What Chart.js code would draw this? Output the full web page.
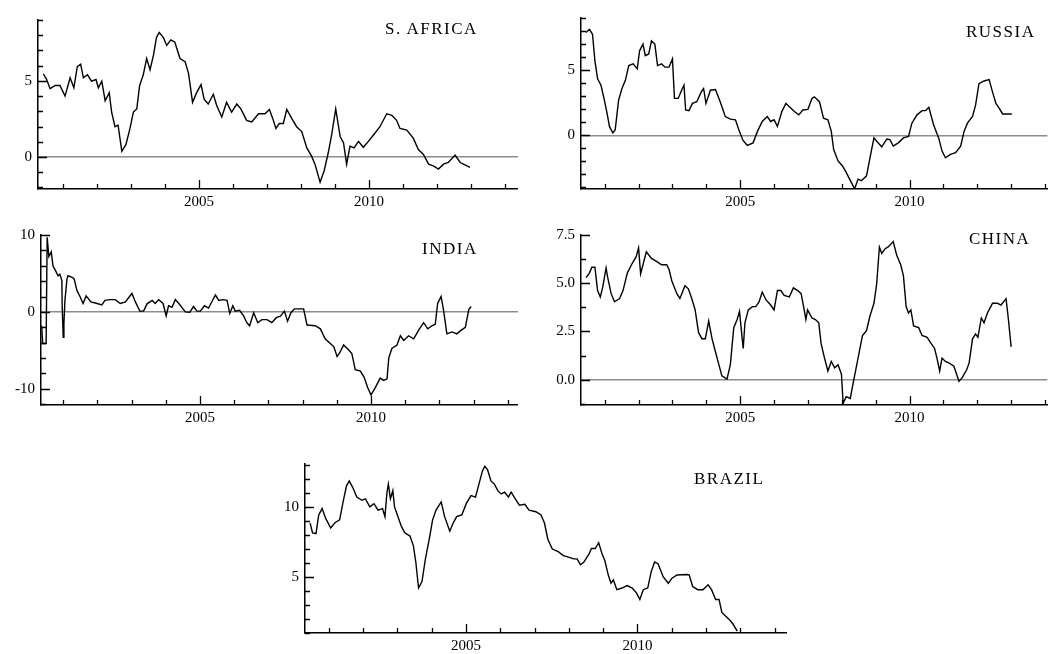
<!DOCTYPE html>
<html>
<head>
<meta charset="utf-8">
<script src="https://cdn.jsdelivr.net/npm/chart.js@4.4.1/dist/chart.umd.min.js"></script>
<style>
  html, body { margin: 0; padding: 0; background: #fff; }
  body { width: 1049px; height: 654px; position: relative; overflow: hidden; }
  .panel { position: absolute; }
  .title { position: absolute; font-family: 'Liberation Serif', serif; font-size: 17px; letter-spacing: 1.5px; color: #000; white-space: nowrap; line-height: 17px; }
</style>
</head>
<body>
<script>
// year ticks shared by all panels
const xTicks = [2001, 2002, 2003, 2004, 2005, 2006, 2007, 2008, 2009, 2010, 2011, 2012, 2013, 2014];
const xLabels = [2005, 2010];

// S. Africa
const saYears = [2000.42,2000.52,2000.62,2000.77,2000.91,2001.06,2001.21,2001.32,2001.42,2001.52,
  2001.6,2001.72,2001.84,2001.97,2002.04,2002.14,2002.24,2002.36,2002.43,2002.53,
  2002.62,2002.73,2002.85,2002.97,2003.07,2003.17,2003.25,2003.36,2003.46,2003.56,
  2003.66,2003.75,2003.83,2003.95,2004.05,2004.17,2004.29,2004.44,2004.59,2004.69,
  2004.81,2004.93,2005.06,2005.15,2005.27,2005.42,2005.52,2005.67,2005.81,2005.96,
  2006.11,2006.23,2006.4,2006.55,2006.75,2006.94,2007.07,2007.17,2007.26,2007.36,
  2007.48,2007.58,2007.73,2007.87,2008.02,2008.17,2008.31,2008.41,2008.56,2008.68,
  2008.8,2008.9,2009.02,2009.15,2009.25,2009.34,2009.44,2009.56,2009.69,2009.83,
  2009.98,2010.13,2010.32,2010.52,2010.67,2010.81,2010.91,2011.11,2011.3,2011.45,
  2011.6,2011.75,2011.89,2012.04,2012.19,2012.33,2012.53,2012.68,2012.82,2012.97];
const saValues = [5.47,5.09,4.49,4.7,4.7,4.0,5.2,4.55,5.94,6.1,
  5.2,5.4,4.98,5.09,4.55,4.98,3.7,4.23,2.95,1.99,
  2.09,0.38,0.81,1.88,2.95,3.16,4.66,5.4,6.47,5.73,
  6.69,7.86,8.18,7.86,7.33,7.69,7.54,6.47,6.26,5.51,
  3.59,4.23,4.76,3.8,3.48,4.12,3.38,2.63,3.59,2.95,
  3.48,3.16,2.41,2.31,2.84,2.84,3.12,2.52,1.88,2.2,
  2.2,3.12,2.52,1.99,1.67,0.6,0.06,-0.47,-1.65,-0.9,
  0.28,1.45,3.16,1.35,0.92,-0.47,0.71,0.6,1.03,0.64,
  1.03,1.45,1.99,2.84,2.74,2.41,1.88,1.77,1.24,0.49,
  0.17,-0.47,-0.58,-0.79,-0.47,-0.36,0.13,-0.36,-0.51,-0.68];
const saYTicks = [-2, -1, 0, 1, 2, 3, 4, 5, 6, 7, 8, 9];
const saYLabels = [0, 5];

// Russia
const ruYears = [2000.45,2000.55,2000.64,2000.71,2000.79,2000.89,2000.99,2001.07,2001.14,2001.24,
  2001.31,2001.41,2001.51,2001.61,2001.71,2001.84,2001.96,2002.03,2002.13,2002.2,
  2002.3,2002.38,2002.48,2002.56,2002.68,2002.78,2002.9,2003.0,2003.06,2003.17,
  2003.27,2003.34,2003.39,2003.49,2003.59,2003.72,2003.85,2003.92,2003.99,2004.12,
  2004.27,2004.41,2004.56,2004.71,2004.86,2004.96,2005.08,2005.21,2005.38,2005.51,
  2005.65,2005.8,2005.9,2006.0,2006.1,2006.23,2006.35,2006.5,2006.6,2006.73,
  2006.85,2007.0,2007.12,2007.19,2007.34,2007.46,2007.59,2007.69,2007.76,2007.89,
  2008.02,2008.13,2008.28,2008.38,2008.48,2008.58,2008.73,2008.88,2008.95,2009.03,
  2009.18,2009.33,2009.42,2009.52,2009.67,2009.82,2009.97,2010.07,2010.22,2010.37,
  2010.47,2010.57,2010.71,2010.86,2010.96,2011.06,2011.21,2011.36,2011.51,2011.61,
  2011.71,2011.86,2011.95,2012.05,2012.2,2012.35,2012.45,2012.55,2012.65,2012.75,
  2013.02];
const ruValues = [7.88,8.13,7.75,5.73,4.34,3.84,2.7,1.69,0.68,0.18,
  0.43,2.7,3.59,4.22,5.35,5.48,5.1,6.49,7.0,6.11,
  6.24,7.25,7.0,5.35,5.48,5.23,5.23,5.86,2.83,2.83,
  3.46,3.84,1.94,1.89,2.45,2.58,3.33,3.59,2.45,3.46,
  3.51,2.58,1.44,1.24,1.19,0.43,-0.38,-0.78,-0.58,0.3,
  1.06,1.44,1.06,1.19,0.68,1.82,2.45,2.07,1.82,1.57,
  1.94,1.99,2.83,2.95,2.58,1.31,1.19,0.3,-1.09,-1.97,
  -2.35,-2.85,-3.61,-4.1,-3.36,-3.48,-3.11,-1.09,-0.2,-0.45,
  -0.88,-0.28,-0.33,-0.83,-0.58,-0.2,-0.08,0.93,1.57,1.89,
  1.89,2.15,0.81,-0.2,-1.21,-1.72,-1.46,-1.34,-0.83,0.3,
  0.93,1.44,2.32,3.96,4.17,4.27,3.33,2.45,2.07,1.64,
  1.64];
const ruYTicks = [-4, -3, -2, -1, 0, 1, 2, 3, 4, 5, 6, 7, 8, 9];
const ruYLabels = [0, 5];

// India
const inYears = [2000.37,2000.4,2000.5,2000.53,2000.58,2000.65,2000.7,2000.76,2000.85,2000.9,
  2000.96,2000.97,2001.0,2001.02,2001.05,2001.11,2001.14,2001.26,2001.32,2001.4,
  2001.49,2001.58,2001.67,2001.81,2001.99,2002.13,2002.22,2002.37,2002.52,2002.67,
  2002.82,2002.94,2003.01,2003.11,2003.24,2003.35,2003.45,2003.6,2003.69,2003.79,
  2003.92,2004.01,2004.08,2004.18,2004.28,2004.38,2004.47,2004.57,2004.7,2004.81,
  2004.91,2005.01,2005.13,2005.25,2005.32,2005.45,2005.55,2005.67,2005.79,2005.87,
  2005.96,2006.03,2006.16,2006.28,2006.37,2006.45,2006.57,2006.69,2006.81,2006.96,
  2007.1,2007.23,2007.35,2007.47,2007.56,2007.66,2007.76,2008.03,2008.13,2008.37,
  2008.52,2008.66,2008.81,2008.91,2009.01,2009.1,2009.2,2009.35,2009.44,2009.54,
  2009.69,2009.8,2009.9,2010.0,2010.13,2010.27,2010.37,2010.47,2010.52,2010.61,
  2010.76,2010.86,2010.96,2011.1,2011.25,2011.39,2011.54,2011.66,2011.78,2011.88,
  2011.95,2012.05,2012.12,2012.22,2012.37,2012.51,2012.63,2012.76,2012.86,2012.93];
const inValues = [-1.8,-4.1,-4.1,9.7,7.2,7.8,6.0,5.5,4.7,4.9,
  4.1,0.6,-3.3,-1.5,1.5,4.3,4.7,4.5,4.3,2.8,
  2.0,1.1,2.1,1.3,1.1,0.9,1.5,1.6,1.6,1.1,
  1.3,2.0,2.4,1.3,0.1,0.1,1.05,1.5,1.1,1.6,
  1.1,-0.5,0.8,0.6,1.6,1.1,0.6,0.0,-0.05,0.7,
  0.1,0.1,0.8,0.5,1.1,2.2,1.5,1.6,1.5,-0.2,
  0.8,0.1,0.2,-0.55,-1.4,-1.8,-0.1,-1.4,-1.0,-1.0,
  -1.4,-0.75,-0.55,0.1,-1.2,-0.1,0.4,0.4,-1.7,-1.8,
  -2.2,-3.5,-4.1,-4.5,-5.8,-5.2,-4.3,-4.95,-5.4,-7.5,
  -7.7,-8.5,-9.8,-10.8,-9.8,-8.6,-8.9,-8.7,-6.0,-4.75,
  -4.3,-3.1,-3.7,-3.1,-3.5,-2.4,-1.4,-2.2,-1.8,-1.6,
  1.1,2.0,0.3,-2.85,-2.6,-2.85,-2.4,-2.0,0.3,0.7];
const inYTicks = [-12, -10, -8, -6, -4, -2, 0, 2, 4, 6, 8, 10];
const inYLabels = [-10, 0, 10];

// China
const cnYears = [2000.45,2000.55,2000.62,2000.71,2000.79,2000.87,2000.94,2001.04,2001.09,2001.19,
  2001.29,2001.44,2001.54,2001.67,2001.79,2001.93,2002.0,2002.06,2002.13,2002.23,
  2002.38,2002.53,2002.68,2002.83,2002.9,2002.98,2003.13,2003.22,2003.37,2003.47,
  2003.57,2003.67,2003.77,2003.87,2003.97,2004.07,2004.17,2004.27,2004.37,2004.46,
  2004.61,2004.71,2004.81,2004.91,2004.98,2005.06,2005.09,2005.14,2005.24,2005.36,
  2005.46,2005.56,2005.65,2005.77,2005.9,2006.0,2006.1,2006.2,2006.3,2006.45,
  2006.57,2006.7,2006.8,2006.89,2006.94,2006.99,2007.12,2007.22,2007.32,2007.39,
  2007.49,2007.59,2007.69,2007.79,2007.89,2007.99,2008.04,2008.13,2008.25,2008.35,
  2008.48,2008.61,2008.73,2008.83,2008.95,2009.03,2009.11,2009.18,2009.28,2009.37,
  2009.52,2009.62,2009.74,2009.82,2009.9,2009.97,2010.04,2010.12,2010.27,2010.37,
  2010.52,2010.64,2010.74,2010.81,2010.89,2010.96,2011.06,2011.16,2011.31,2011.39,
  2011.46,2011.56,2011.69,2011.76,2011.86,2011.95,2012.02,2012.12,2012.2,2012.3,
  2012.45,2012.6,2012.7,2012.85,2012.92,2013.0];
const cnValues = [5.29,5.54,5.83,5.83,4.62,4.29,4.79,5.79,5.29,4.46,
  4.04,4.21,4.62,5.54,5.96,6.38,6.83,5.49,5.96,6.63,
  6.29,6.13,5.96,5.96,5.71,5.13,4.46,4.21,4.87,4.71,
  4.21,3.62,2.45,2.12,2.12,3.04,2.12,1.45,0.78,0.2,
  0.03,0.78,2.7,3.12,3.54,2.12,1.62,2.95,3.62,3.79,
  3.79,4.04,4.54,4.12,3.87,3.62,4.62,4.62,4.37,4.29,
  4.76,4.62,4.46,3.62,3.12,3.62,3.2,3.12,2.95,1.87,
  1.12,0.45,0.95,0.62,0.78,0.28,-1.22,-0.88,-0.97,-0.05,
  1.12,2.29,2.54,3.29,3.96,4.96,6.88,6.54,6.79,6.88,
  7.16,6.46,5.96,5.38,3.79,3.46,3.62,2.79,2.7,2.29,
  2.2,1.87,1.62,1.12,0.45,1.12,0.95,0.87,0.7,0.28,
  -0.08,0.12,0.53,0.87,2.12,2.37,2.2,3.2,2.95,3.46,
  3.96,3.96,3.87,4.2,3.12,1.7];
const cnYTicks = [-1.25, 0, 1.25, 2.5, 3.75, 5, 6.25, 7.5];
const cnYLabels = [0, 2.5, 5, 7.5];

// Brazil
const brYears = [2000.46,2000.53,2000.63,2000.71,2000.81,2000.91,2001.06,2001.19,2001.32,2001.42,
  2001.52,2001.6,2001.7,2001.82,2001.97,2002.07,2002.2,2002.32,2002.44,2002.57,
  2002.64,2002.7,2002.74,2002.8,2002.87,2002.92,2003.02,2003.12,2003.22,2003.37,
  2003.47,2003.54,2003.62,2003.72,2003.82,2003.93,2004.03,2004.13,2004.28,2004.38,
  2004.53,2004.63,2004.73,2004.88,2005.01,2005.15,2005.28,2005.38,2005.48,2005.55,
  2005.63,2005.73,2005.83,2005.93,2006.03,2006.13,2006.24,2006.32,2006.44,2006.56,
  2006.72,2006.84,2007.04,2007.19,2007.29,2007.39,2007.52,2007.69,2007.84,2007.99,
  2008.14,2008.24,2008.34,2008.44,2008.59,2008.66,2008.77,2008.87,2008.97,2009.05,
  2009.15,2009.23,2009.3,2009.4,2009.55,2009.7,2009.85,2009.97,2010.07,2010.17,
  2010.3,2010.4,2010.5,2010.6,2010.75,2010.9,2011.0,2011.15,2011.46,2011.51,
  2011.61,2011.76,2011.91,2012.06,2012.16,2012.28,2012.38,2012.46,2012.56,2012.66,
  2012.78,2012.91];
const brValues = [8.84,8.14,8.09,9.42,9.88,9.19,8.49,8.88,9.07,10.35,
  11.51,11.86,11.4,10.7,10.47,10.58,10.0,10.23,9.77,9.88,
  9.3,11.05,11.63,10.58,11.16,10.0,9.3,8.6,8.14,7.91,
  7.21,6.05,4.19,4.65,6.28,7.67,9.07,9.77,10.35,9.3,
  8.26,8.84,9.3,9.42,10.23,10.81,10.7,11.63,12.56,12.91,
  12.67,11.86,11.63,11.16,10.93,11.05,10.7,11.05,10.58,10.12,
  10.19,9.77,9.65,9.42,8.84,7.67,6.98,6.79,6.51,6.4,
  6.28,6.28,5.86,6.05,6.63,7.02,7.02,7.44,6.63,6.16,
  5.12,4.53,4.77,4.07,4.19,4.37,4.19,3.84,3.37,4.07,
  4.19,5.35,6.05,5.93,5.0,4.53,4.88,5.12,5.16,5.12,
  4.3,4.07,4.07,4.42,4.07,3.37,3.37,2.44,2.21,1.98,
  1.63,1.1];
const brYTicks = [1, 2, 3, 4, 5, 6, 7, 8, 9, 10, 11, 12, 13];
const brYLabels = [5, 10];

// panel layout: plot box [left, top, right, bottom] in page pixels
const panels = [
  { title: 'S. AFRICA', years: saYears, values: saValues, yTicks: saYTicks, yLabels: saYLabels, dec: 0,
    box: [38, 15, 518, 189], xMin: 2000.265, xMax: 2014.38, yMin: -2.1, yMax: 9, titleAt: [385, 20] },
  { title: 'RUSSIA', years: ruYears, values: ruValues, yTicks: ruYTicks, yLabels: ruYLabels, dec: 0,
    box: [581, 13, 1049, 189], xMin: 2000.3, xMax: 2014.07, yMin: -4.12, yMax: 9, titleAt: [966, 23] },
  { title: 'INDIA', years: inYears, values: inValues, yTicks: inYTicks, yLabels: inYLabels, dec: 0,
    box: [41, 230, 518, 405], xMin: 2000.35, xMax: 2014.3, yMin: -12.1, yMax: 10, titleAt: [422, 240] },
  { title: 'CHINA', years: cnYears, values: cnValues, yTicks: cnYTicks, yLabels: cnYLabels, dec: 1,
    box: [581, 230, 1049, 405], xMin: 2000.3, xMax: 2014.07, yMin: -1.31, yMax: 7.5, titleAt: [969, 230] },
  { title: 'BRAZIL', years: brYears, values: brValues, yTicks: brYTicks, yLabels: brYLabels, dec: 0,
    box: [305, 459, 787, 633], xMin: 2000.31, xMax: 2014.36, yMin: 0.97, yMax: 13.07, titleAt: [694, 470] }
];

const Y_AXIS_W = 40;
const X_AXIS_H = 26;
const PAD_TOP = 10;

// short tick marks drawn inside the plot, longer at labelled values
const innerTicks = {
  id: 'innerTicks',
  afterDraw(chart, args, opts) {
    const { ctx, chartArea, scales } = chart;
    ctx.save();
    ctx.strokeStyle = '#000';
    ctx.lineWidth = 1.3;
    ctx.beginPath();
    scales.x.ticks.forEach(t => {
      const px = Math.round(scales.x.getPixelForValue(t.value)) + 0.5;
      const len = opts.xMajor.includes(t.value) ? 9 : 5;
      ctx.moveTo(px, chartArea.bottom);
      ctx.lineTo(px, chartArea.bottom - len);
    });
    scales.y.ticks.forEach(t => {
      const py = Math.round(scales.y.getPixelForValue(t.value)) + 0.5;
      const len = opts.yMajor.includes(t.value) ? 9 : 5;
      ctx.moveTo(chartArea.left, py);
      ctx.lineTo(chartArea.left + len, py);
    });
    ctx.stroke();
    ctx.restore();
  }
};

Chart.defaults.font.family = "'Liberation Serif', serif";
Chart.defaults.font.size = 15;
Chart.defaults.color = '#000';

panels.forEach(p => {
  const [l, t, r, b] = p.box;
  const w = Y_AXIS_W + (r - l);
  const h = PAD_TOP + (b - t) + X_AXIS_H;

  const wrap = document.createElement('div');
  wrap.className = 'panel';
  wrap.style.left = (l - Y_AXIS_W) + 'px';
  wrap.style.top = (t - PAD_TOP) + 'px';
  const canvas = document.createElement('canvas');
  canvas.width = w;
  canvas.height = h;
  canvas.style.width = w + 'px';
  canvas.style.height = h + 'px';
  wrap.appendChild(canvas);
  document.body.appendChild(wrap);

  const title = document.createElement('div');
  title.className = 'title';
  title.textContent = p.title;
  title.style.left = p.titleAt[0] + 'px';
  title.style.top = p.titleAt[1] + 'px';
  document.body.appendChild(title);

  new Chart(canvas.getContext('2d'), {
    type: 'line',
    data: {
      datasets: [{
        data: p.years.map((x, i) => ({ x: x, y: p.values[i] })),
        borderColor: '#000',
        borderWidth: 1.4,
        pointRadius: 0,
        tension: 0,
        fill: false
      }]
    },
    plugins: [innerTicks],
    options: {
      responsive: false,
      animation: false,
      events: [],
      layout: { autoPadding: false, padding: { top: PAD_TOP, right: 0, bottom: 0, left: 0 } },
      plugins: {
        legend: { display: false },
        tooltip: { enabled: false },
        innerTicks: { xMajor: xLabels, yMajor: p.yLabels }
      },
      scales: {
        x: {
          type: 'linear',
          min: p.xMin,
          max: p.xMax,
          afterBuildTicks: s => { s.ticks = xTicks.map(v => ({ value: v })); },
          afterFit: s => { s.height = X_AXIS_H; },
          grid: { display: true, drawTicks: false, color: 'rgba(0,0,0,0)' },
          border: { display: true, color: '#000', width: 1.5 },
          ticks: {
            autoSkip: false,
            maxRotation: 0,
            padding: 4,
            callback: v => xLabels.includes(v) ? String(v) : ''
          }
        },
        y: {
          type: 'linear',
          min: p.yMin,
          max: p.yMax,
          afterBuildTicks: s => { s.ticks = p.yTicks.map(v => ({ value: v })); },
          afterFit: s => { s.width = Y_AXIS_W; },
          grid: {
            drawTicks: false,
            lineWidth: 1.5,
            color: c => (c.tick && c.tick.value === 0) ? '#8c8c8c' : 'rgba(0,0,0,0)'
          },
          border: { display: true, color: '#000', width: 1.5 },
          ticks: {
            autoSkip: false,
            padding: 6,
            callback: v => p.yLabels.includes(v) ? v.toFixed(p.dec) : ''
          }
        }
      }
    }
  });
});
</script>
</body>
</html>
